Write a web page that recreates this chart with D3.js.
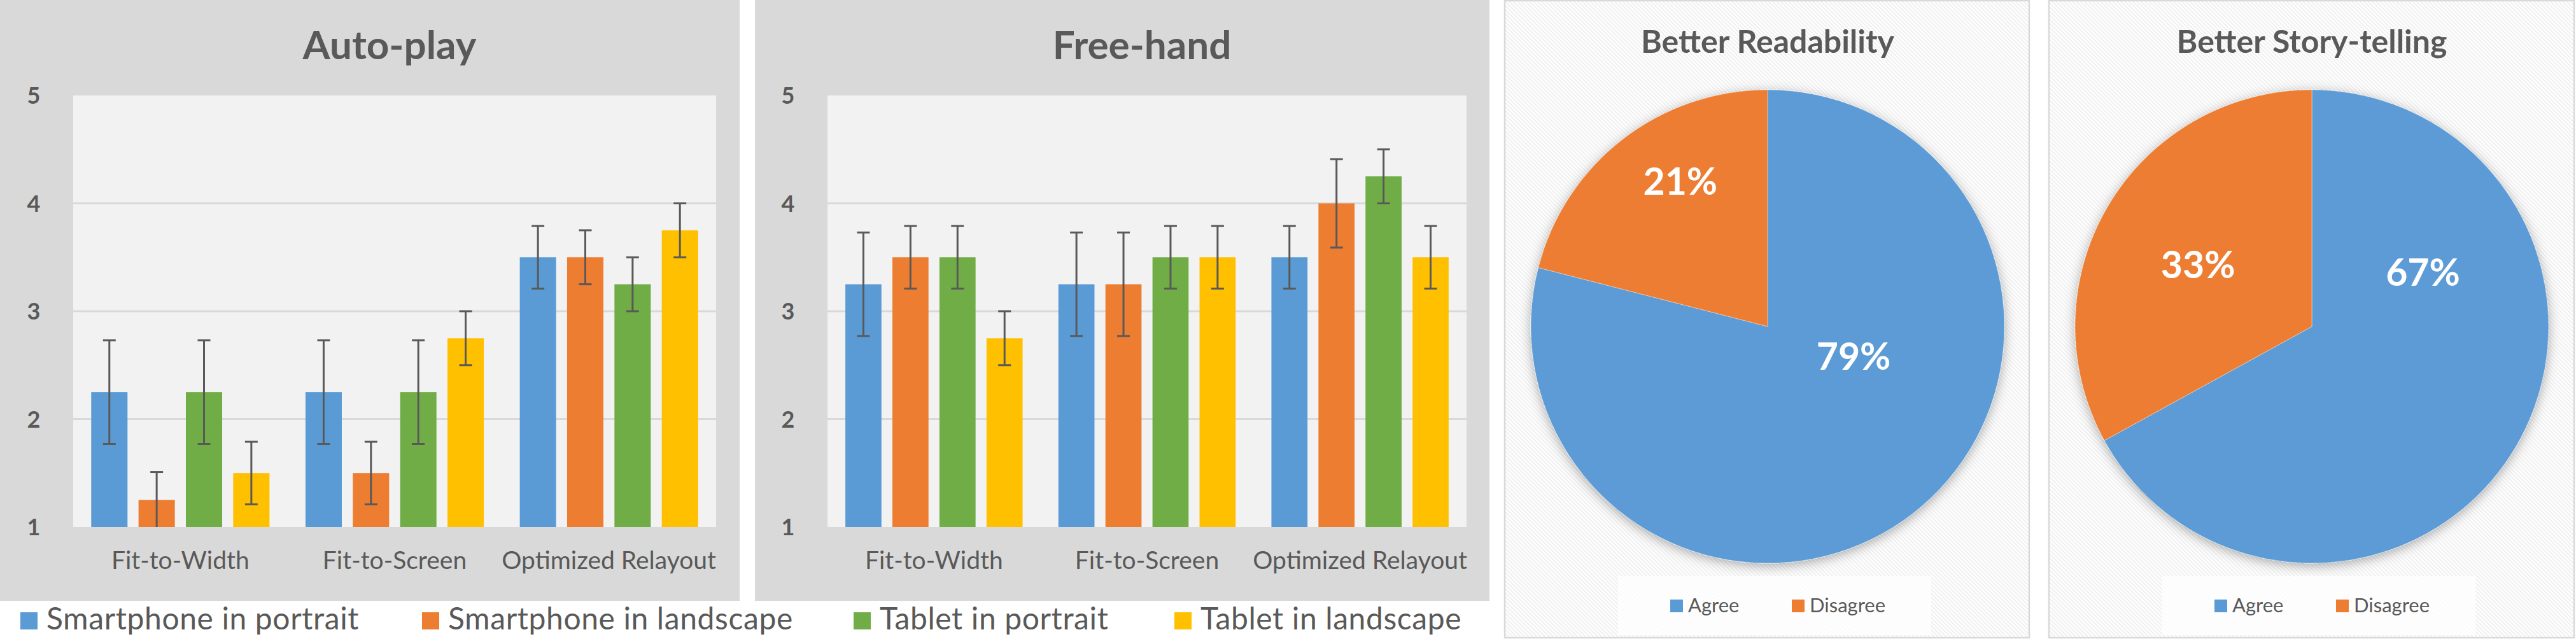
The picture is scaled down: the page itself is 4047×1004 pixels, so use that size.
<!DOCTYPE html>
<html>
<head>
<meta charset="utf-8">
<script src="https://cdn.jsdelivr.net/npm/d3@7"></script>
<style>
  html, body { margin: 0; padding: 0; background: #fff; }
  svg { display: block; font-family: Lato, "Open Sans", sans-serif; }
</style>
</head>
<body>
<svg id="chart" width="4047" height="1004"></svg>
<script>
/* ── Data ───────────────────────────────────────────────────────────────── */
const categories   = ['Fit-to-Width', 'Fit-to-Screen', 'Optimized Relayout'];
const seriesNames  = ['Smartphone in portrait', 'Smartphone in landscape', 'Tablet in portrait', 'Tablet in landscape'];
const yTicks       = [1, 2, 3, 4, 5];

// rows = categories, columns = series
const autoPlayMeans  = [[2.25, 1.25, 2.25, 1.5 ], [2.25, 1.5 , 2.25, 2.75], [3.5 , 3.5 , 3.25, 3.75]];
const autoPlayErrors = [[0.48, 0.26, 0.48, 0.29], [0.48, 0.29, 0.48, 0.25], [0.29, 0.25, 0.25, 0.25]];
const freeHandMeans  = [[3.25, 3.5 , 3.5 , 2.75], [3.25, 3.25, 3.5 , 3.5 ], [3.5 , 4.0 , 4.25, 3.5 ]];
const freeHandErrors = [[0.48, 0.29, 0.29, 0.25], [0.48, 0.48, 0.29, 0.29], [0.29, 0.41, 0.25, 0.29]];

const pieCategories     = ['Agree', 'Disagree'];
const readabilityShares = [79, 21];
const storyShares       = [67, 33];

/* ── Style / layout ─────────────────────────────────────────────────────── */
const SERIES_COLORS = ['#5B9BD5', '#ED7D31', '#70AD47', '#FFC000'];
const PIE_COLORS    = ['#5B9BD5', '#ED7D31'];
const TXT = '#595959';
// label placement inside each pie: [angle in degrees from 12 o'clock, fraction of radius]
const readabilityLabelPos = [[109, 0.384], [329, 0.716]];
const storyLabelPos       = [[64, 0.522], [298.5, 0.547]];

const svg = d3.select('#chart');
const defs = svg.append('defs');

const hatch = defs.append('pattern').attr('id', 'hatch')
  .attr('patternUnits', 'userSpaceOnUse').attr('width', 4.5).attr('height', 4.5)
  .attr('patternTransform', 'rotate(-45)');
hatch.append('rect').attr('width', 4.5).attr('height', 4.5).attr('fill', '#fff');
hatch.append('rect').attr('width', 2).attr('height', 4.5).attr('fill', '#efefef');

defs.append('filter').attr('id', 'pieShadow')
  .attr('x', '-20%').attr('y', '-20%').attr('width', '140%').attr('height', '140%')
  .append('feDropShadow')
  .attr('dx', 0).attr('dy', 4).attr('stdDeviation', 9)
  .attr('flood-color', '#000').attr('flood-opacity', 0.32);

/* ── Bar panel ──────────────────────────────────────────────────────────── */
function barPanel(opts) {
  const { x0, x1, plotL, plotR, title, means, errors } = opts;
  const plotT = 150, plotB = 828, panelB = 944;
  const g = svg.append('g');

  g.append('rect').attr('x', x0).attr('y', 0).attr('width', x1 - x0).attr('height', panelB).attr('fill', '#D9D9D9');
  g.append('rect').attr('x', plotL).attr('y', plotT).attr('width', plotR - plotL).attr('height', plotB - plotT).attr('fill', '#F2F2F2');

  const y = d3.scaleLinear().domain([1, 5]).range([plotB, plotT]);
  const xCat = d3.scaleBand().domain(categories).range([plotL, plotR]).paddingInner(0.168).paddingOuter(0.084);
  const xSer = d3.scaleBand().domain(d3.range(seriesNames.length)).range([0, xCat.bandwidth()]).paddingInner(0.233);

  // grid
  g.append('g').selectAll('line').data(yTicks.filter(t => t > 1 && t < 5)).join('line')
    .attr('x1', plotL).attr('x2', plotR).attr('y1', d => y(d)).attr('y2', d => y(d))
    .attr('stroke', '#D9D9D9').attr('stroke-width', 3);

  // y axis
  const ya = g.append('g').attr('transform', `translate(${plotL},0)`)
    .call(d3.axisLeft(y).tickValues(yTicks).tickSize(0).tickFormat(d3.format('d')));
  ya.select('.domain').remove();
  ya.selectAll('text').attr('x', -62).attr('text-anchor', 'middle').attr('dy', '0.36em')
    .attr('fill', TXT).attr('font-size', 36).attr('font-weight', 700).attr('font-family', 'Lato');

  // x axis
  const xa = g.append('g').attr('transform', `translate(0,${plotB})`)
    .call(d3.axisBottom(xCat).tickSize(0));
  xa.select('.domain').remove();
  xa.selectAll('text').attr('y', 66).attr('dy', null)
    .attr('fill', TXT).attr('font-size', 39).attr('font-family', 'Lato');

  // bars + error bars
  const rows = categories.flatMap((c, ci) => seriesNames.map((s, si) => ({ c, si, v: means[ci][si], e: errors[ci][si] })));
  const bx = d => xCat(d.c) + xSer(d.si);
  g.append('g').selectAll('rect').data(rows).join('rect')
    .attr('x', bx).attr('width', xSer.bandwidth())
    .attr('y', d => y(d.v)).attr('height', d => plotB - y(d.v))
    .attr('fill', d => SERIES_COLORS[d.si]);

  const eb = g.append('g').attr('stroke', '#595959').attr('stroke-width', 3);
  const cx = d => bx(d) + xSer.bandwidth() / 2;
  const hi = d => y(Math.min(5, d.v + d.e)), lo = d => y(Math.max(1, d.v - d.e));
  eb.selectAll('.stem').data(rows).join('line').attr('class', 'stem')
    .attr('x1', cx).attr('x2', cx).attr('y1', hi).attr('y2', lo);
  eb.selectAll('.capHi').data(rows).join('line').attr('class', 'capHi')
    .attr('x1', d => cx(d) - 10).attr('x2', d => cx(d) + 10).attr('y1', hi).attr('y2', hi);
  eb.selectAll('.capLo').data(rows.filter(d => d.v - d.e > 1)).join('line').attr('class', 'capLo')
    .attr('x1', d => cx(d) - 10).attr('x2', d => cx(d) + 10).attr('y1', lo).attr('y2', lo);

  g.append('text').text(title)
    .attr('x', (plotL + plotR) / 2 - 8).attr('y', 93).attr('text-anchor', 'middle')
    .attr('fill', TXT).attr('font-size', 62).attr('font-weight', 700);
}

barPanel({ x0: 0,    x1: 1162, plotL: 115,  plotR: 1125, title: 'Auto-play', means: autoPlayMeans, errors: autoPlayErrors });
barPanel({ x0: 1186, x1: 2340, plotL: 1300, plotR: 2304, title: 'Free-hand', means: freeHandMeans, errors: freeHandErrors });

/* ── Shared bar legend ──────────────────────────────────────────────────── */
const legX = [32, 663, 1341, 1845];
const leg = svg.append('g').selectAll('g').data(seriesNames).join('g')
  .attr('transform', (d, i) => `translate(${legX[i]},962)`);
leg.append('rect').attr('width', 27).attr('height', 27).attr('fill', (d, i) => SERIES_COLORS[i]);
leg.append('text').text(d => d).attr('x', 41).attr('y', 27)
  .attr('fill', TXT).attr('font-size', 48).attr('letter-spacing', 0.6);

/* ── Pie panels ─────────────────────────────────────────────────────────── */
function piePanel(opts) {
  const { x0, x1, cx, title, shares, labelPos } = opts;
  const cy = 513, R = 372;
  const g = svg.append('g');

  g.append('rect').attr('x', x0).attr('y', 1).attr('width', x1 - x0).attr('height', 1001)
    .attr('fill', 'url(#hatch)').attr('stroke', '#D9D9D9').attr('stroke-width', 2.5);

  g.append('text').text(title).attr('x', cx).attr('y', 83).attr('text-anchor', 'middle')
    .attr('fill', TXT).attr('font-size', 50).attr('font-weight', 700);

  const pie = d3.pie().sort(null).value(d => d);
  const arc = d3.arc().innerRadius(0).outerRadius(R);
  const slices = g.append('g').attr('transform', `translate(${cx},${cy})`).attr('filter', 'url(#pieShadow)');
  slices.selectAll('path').data(pie(shares)).join('path')
    .attr('d', arc).attr('fill', (d, i) => PIE_COLORS[i])
    .attr('stroke', '#fff').attr('stroke-opacity', 0.4).attr('stroke-width', 1);

  g.append('g').attr('transform', `translate(${cx},${cy})`)
    .selectAll('text').data(shares).join('text')
    .text(d => d + '%')
    .attr('x', (d, i) => Math.sin(labelPos[i][0] * Math.PI / 180) * labelPos[i][1] * R)
    .attr('y', (d, i) => -Math.cos(labelPos[i][0] * Math.PI / 180) * labelPos[i][1] * R)
    .attr('dy', '0.36em').attr('text-anchor', 'middle')
    .attr('fill', '#fff').attr('font-size', 59).attr('font-weight', 700);

  // legend
  g.append('rect').attr('x', cx - 235).attr('y', 905).attr('width', 492).attr('height', 93)
    .attr('fill', '#fff').attr('fill-opacity', 0.75);
  const lx = [-153, 38];
  const li = g.append('g').selectAll('g').data(pieCategories).join('g')
    .attr('transform', (d, i) => `translate(${cx + lx[i]},942)`);
  li.append('rect').attr('width', 20).attr('height', 20).attr('fill', (d, i) => PIE_COLORS[i]);
  li.append('text').text(d => d).attr('x', 28).attr('y', 20)
    .attr('fill', TXT).attr('font-size', 31);
}

piePanel({ x0: 2364, x1: 3188, cx: 2777, title: 'Better Readability',   shares: readabilityShares, labelPos: readabilityLabelPos });
piePanel({ x0: 3219, x1: 4044, cx: 3632, title: 'Better Story-telling', shares: storyShares,       labelPos: storyLabelPos });
</script>
</body>
</html>
